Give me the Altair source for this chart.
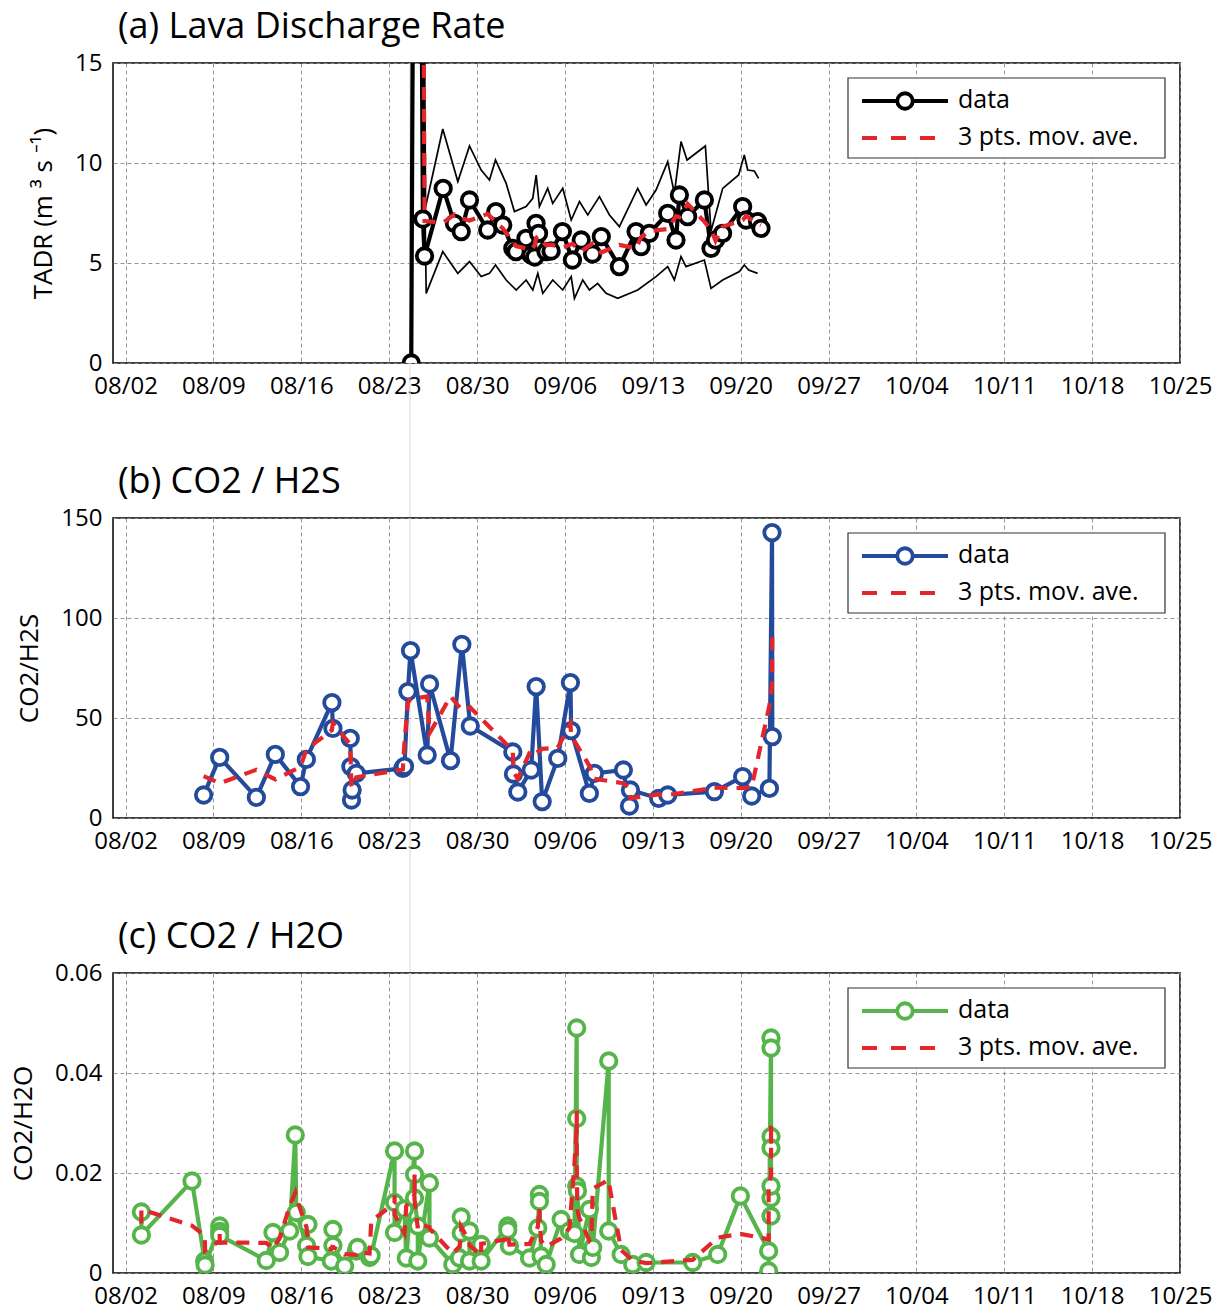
import altair as alt
import pandas as pd

FONT = "Open Sans"
BASE = pd.Timestamp("2014-08-01")   # day 0 of the fractional day counts below

# ---------------- data (days since Aug 1, values) ----------------
# (a) TADR
a_day = [23.76, 24.18, 24.69, 24.82, 26.3, 27.2, 27.74, 28.4, 29.85, 30.5,
         31.05, 31.85, 32.1, 32.9, 33.3, 33.6, 33.7, 33.9, 34.5, 34.9,
         35.8, 36.6, 37.3, 38.2, 38.9, 40.34, 41.67, 42.07, 42.73, 44.19,
         44.85, 45.12, 45.78, 47.11, 47.64, 48.0, 48.56, 50.16, 50.43, 51.35,
         51.62]
a_val = [0, 60, 7.2, 5.35, 8.73, 6.98, 6.57, 8.15, 6.65, 7.57,
         6.9, 5.73, 5.57, 6.23, 5.4, 5.3, 6.98, 6.48, 5.57, 5.6,
         6.57, 5.15, 6.15, 5.45, 6.32, 4.82, 6.57, 5.82, 6.48, 7.48,
         6.15, 8.4, 7.32, 8.15, 5.73, 6.15, 6.48, 7.82, 7.15, 7.07,
         6.73]
a_up_day = [23.76, 24.18, 24.9, 26.27, 27.47, 28.4, 29.33, 29.99, 30.47, 31.32,
            31.98, 32.91, 33.44, 33.71, 33.97, 34.63, 35.03, 35.83, 36.5, 37.16,
            37.82, 38.75, 39.55, 40.34, 41.8, 42.47, 43.26, 44.19, 44.72, 45.25,
            45.73, 47.19, 47.64, 48.57, 49.84, 50.29, 50.56, 51.09, 51.43]
a_up_val = [0, 84, 7.8, 11.7, 9.07, 10.85, 9.65, 9.15, 10.15, 8.98,
            7.57, 7.82, 8.23, 9.4, 7.82, 8.73, 7.98, 8.73, 7.15, 8.07,
            7.4, 8.32, 7.4, 6.82, 8.73, 7.9, 8.65, 10.07, 8.48, 11.07,
            10.15, 10.85, 6.6, 8.73, 9.4, 10.4, 9.65, 9.6, 9.23]
a_lo_day = [23.76, 24.18, 24.95, 26.27, 27.47, 28.4, 29.33, 29.99, 30.47, 31.32,
            32.12, 32.91, 33.44, 33.84, 34.24, 35.03, 35.83, 36.5, 36.76, 37.42,
            37.95, 38.61, 39.28, 40.21, 41.8, 43.26, 44.19, 44.72, 45.25, 45.65,
            47.11, 47.64, 48.57, 49.9, 50.29, 50.64, 51.35]
a_lo_val = [0, 38, 3.48, 5.57, 4.48, 5.07, 4.32, 4.48, 4.9, 4.15,
            3.65, 4.15, 3.65, 4.48, 3.48, 4.15, 3.65, 4.32, 3.23, 4.15,
            3.65, 3.98, 3.48, 3.23, 3.65, 4.32, 4.82, 4.15, 5.32, 4.82,
            5.15, 3.73, 4.15, 4.57, 4.9, 4.65, 4.48]

# (b) CO2/H2S
b_day = [7.22, 8.5, 11.42, 12.93, 14.94, 15.4, 17.44, 17.52, 18.9, 18.95,
         19.0, 19.05, 19.38, 23.09, 23.22, 23.49, 23.7, 25.03, 25.22, 26.89,
         27.79, 28.46, 31.85, 31.9, 32.25, 33.31, 33.71, 34.19, 35.43, 36.44,
         36.5, 37.95, 38.35, 40.66, 41.14, 41.22, 43.47, 44.19, 47.91, 50.16,
         50.88, 52.29, 52.5, 52.52]
b_val = [11.5, 30.3, 10.3, 31.8, 15.7, 29.3, 57.7, 44.8, 39.8, 25.7,
         9, 14, 22.3, 24.8, 25.8, 63.2, 83.7, 31.5, 67, 28.7,
         86.8, 46, 33, 22, 13, 24, 65.7, 8.2, 29.8, 67.7,
         43.7, 12.3, 22.3, 24, 6, 14, 9.8, 11.5, 13.2, 20.7,
         11, 14.8, 142.7, 40.7]

# (c) CO2/H2O
c_day = [2.26, 2.26, 6.29, 7.30, 7.34, 8.50, 8.50, 8.50, 12.21, 12.74,
         13.27, 14.07, 14.52, 14.60, 15.42, 15.53, 15.53, 17.39, 17.52, 17.52,
         18.45, 19.38, 19.48, 20.44, 20.57, 22.43, 22.43, 22.43, 23.22, 23.36,
         24.02, 24.02, 24.02, 24.28, 24.28, 25.21, 25.21, 27.07, 27.60, 27.74,
         27.74, 28.40, 28.40, 29.33, 29.33, 31.45, 31.45, 31.58, 33.18, 33.84,
         33.97, 33.97, 34.10, 34.51, 35.70, 36.36, 36.76, 36.94, 36.94, 36.94,
         37.00, 37.16, 37.95, 38.11, 38.22, 39.49, 39.49, 40.48, 41.40, 42.47,
         46.18, 48.17, 49.98, 52.23, 52.23, 52.42, 52.42, 52.42, 52.42, 52.42,
         52.42, 52.42]
c_val = [0.0122, 0.0076, 0.0184, 0.0024, 0.0016, 0.0094, 0.0083, 0.0075, 0.0025, 0.0081,
         0.0041, 0.0084, 0.0276, 0.0121, 0.0055, 0.0097, 0.0033, 0.0024, 0.0087, 0.0055,
         0.0014, 0.0044, 0.0051, 0.0031, 0.0035, 0.0244, 0.0141, 0.0081, 0.0128, 0.0030,
         0.0244, 0.0197, 0.0150, 0.0094, 0.0024, 0.0180, 0.0070, 0.0017, 0.0030, 0.0112,
         0.0080, 0.0084, 0.0024, 0.0057, 0.0024, 0.0094, 0.0086, 0.0054, 0.0030, 0.0090,
         0.0157, 0.0143, 0.0034, 0.0017, 0.0107, 0.0084, 0.0079, 0.0490, 0.0309, 0.0174,
         0.0164, 0.0037, 0.0127, 0.0031, 0.0051, 0.0424, 0.0084, 0.0037, 0.0017, 0.0021,
         0.0021, 0.0037, 0.0154, 0.0044, 0.0004, 0.0470, 0.0114, 0.0150, 0.0450, 0.0174,
         0.0273, 0.0250]

marker_day = 23.66   # faint vertical reference line

tick_dates = ["2014-08-02", "2014-08-09", "2014-08-16", "2014-08-23", "2014-08-30",
              "2014-09-06", "2014-09-13", "2014-09-20", "2014-09-27", "2014-10-04",
              "2014-10-11", "2014-10-18", "2014-10-25"]
x_domain = ["2014-08-01", "2014-10-25"]

titles = ["(a) Lava Discharge Rate", "(b) CO2 / H2S", "(c) CO2 / H2O"]
ytitles = ["TADR (m ³ s ⁻¹)", "CO2/H2S", "CO2/H2O"]
legend_labels = ["data", "3 pts. mov. ave."]

W, H = 1067, 300
RED = "#e3262b"
MSIZE, MSTROKE, LW = 240, 3.8, 4.2


def to_dt(s):
    t = pd.Timestamp(s)
    return alt.DateTime(year=t.year, month=t.month, date=t.day)


def frame(days, vals):
    ts = [(BASE + pd.to_timedelta(d, unit="D")).strftime("%Y-%m-%dT%H:%M:%S") for d in days]
    return pd.DataFrame({"date": ts, "val": vals, "i": list(range(len(vals)))})


def xenc():
    return alt.X("date:T",
                 scale=alt.Scale(domain=[to_dt(d) for d in x_domain]),
                 axis=alt.Axis(values=[to_dt(d) for d in tick_dates], format="%m/%d",
                               title=None, labelFlush=False, labelOverlap=False))


def yenc(domain, values, title, fmt_expr=None):
    ax = dict(values=values, title=title, titlePadding=18)
    if fmt_expr:
        ax["labelExpr"] = fmt_expr
    return alt.Y("val:Q", scale=alt.Scale(domain=domain, nice=False, zero=False),
                 axis=alt.Axis(**ax))


def legend_layer(color):
    one = pd.DataFrame({"k": [0]})
    base = alt.Chart(one)
    box = base.mark_rect(fill="white", stroke="#333333", strokeWidth=1.2).encode(
        x=alt.value(735), x2=alt.value(1052), y=alt.value(15), y2=alt.value(95))
    l1 = base.mark_rule(color=color, strokeWidth=LW).encode(
        x=alt.value(749), x2=alt.value(835), y=alt.value(38))
    p1 = base.mark_point(shape="circle", filled=True, fill="white", stroke=color,
                         strokeWidth=MSTROKE, size=MSIZE, opacity=1).encode(
        x=alt.value(792), y=alt.value(38))
    l2 = base.mark_rule(color=RED, strokeWidth=LW, strokeDash=[15, 14]).encode(
        x=alt.value(749), x2=alt.value(835), y=alt.value(75))
    t1 = base.mark_text(align="left", baseline="middle", fontSize=25, font=FONT,
                        color="black").encode(
        x=alt.value(845), y=alt.value(37), text=alt.value(legend_labels[0]))
    t2 = base.mark_text(align="left", baseline="middle", fontSize=25, font=FONT,
                        color="black").encode(
        x=alt.value(845), y=alt.value(74), text=alt.value(legend_labels[1]))
    return [box, l1, p1, l2, t1, t2]


def panel(df, color, domain, values, ytitle, title, extra=None, fmt_expr=None,
          rule_len=H + 155):
    y = yenc(domain, values, ytitle, fmt_expr)
    base = alt.Chart(df)
    vdate = (BASE + pd.to_timedelta(marker_day, unit="D")).strftime("%Y-%m-%dT%H:%M:%S")
    vline = alt.Chart(pd.DataFrame({"date": [vdate]})).mark_rule(
        color="#d9d9d9", strokeWidth=1).encode(x="date:T", y=alt.value(0), y2=alt.value(rule_len))
    line = base.mark_line(color=color, strokeWidth=LW, clip=True).encode(
        x=xenc(), y=y, order="i:Q")
    pts = base.mark_point(shape="circle", filled=True, fill="white", stroke=color,
                          strokeWidth=MSTROKE, size=MSIZE, opacity=1, clip=True).encode(
        x=xenc(), y=y)
    ma = base.transform_window(
        ma="mean(val)", frame=[-1, 1], sort=[alt.SortField("i")]
    ).mark_line(color=RED, strokeWidth=LW, strokeDash=[13, 9], clip=True).encode(
        x=xenc(), y=alt.Y("ma:Q", scale=alt.Scale(domain=domain, nice=False, zero=False)),
        order="i:Q")
    layers = [vline] + (extra or []) + [line, pts, ma] + legend_layer(color)
    return alt.layer(*layers).properties(
        width=W, height=H,
        title=alt.TitleParams(title, anchor="start", frame="group", dx=5))


dfa = frame(a_day, a_val)
up = frame(a_up_day, a_up_val)
lo = frame(a_lo_day, a_lo_val)
ya = yenc([0, 15], [0, 5, 10, 15], ytitles[0])
bands = [
    alt.Chart(up).mark_line(color="black", strokeWidth=1.7, clip=True).encode(
        x=xenc(), y=ya, order="i:Q"),
    alt.Chart(lo).mark_line(color="black", strokeWidth=1.7, clip=True).encode(
        x=xenc(), y=ya, order="i:Q"),
]

pa = panel(dfa, "black", [0, 15], [0, 5, 10, 15], ytitles[0], titles[0], extra=bands)
pb = panel(frame(b_day, b_val), "#234a9b", [0, 150], [0, 50, 100, 150], ytitles[1], titles[1])
pc = panel(frame(c_day, c_val), "#56b54a", [0, 0.06], [0, 0.02, 0.04, 0.06], ytitles[2], titles[2],
           fmt_expr="datum.value == 0 ? '0' : format(datum.value, '.2f')", rule_len=H)

chart = alt.vconcat(pa, pb, pc, spacing=155, bounds="flush").resolve_scale(
    y="independent"
).properties(
    padding={"left": 1, "top": 0, "right": 5, "bottom": 0},
).configure_view(
    stroke="black", strokeWidth=1.5
).configure_axis(
    labelFont=FONT, titleFont=FONT, labelFontSize=24, titleFontSize=26,
    labelColor="black", titleColor="black", titleFontWeight="normal",
    grid=True, gridColor="#8c8c8c", gridDash=[4, 3], gridWidth=0.9,
    domain=False, ticks=False, labelPadding=11
).configure_title(
    font=FONT, fontSize=36, fontWeight="normal", color="black", offset=5
)

chart.save("out.html", embed_options={"renderer": "svg", "actions": False})
